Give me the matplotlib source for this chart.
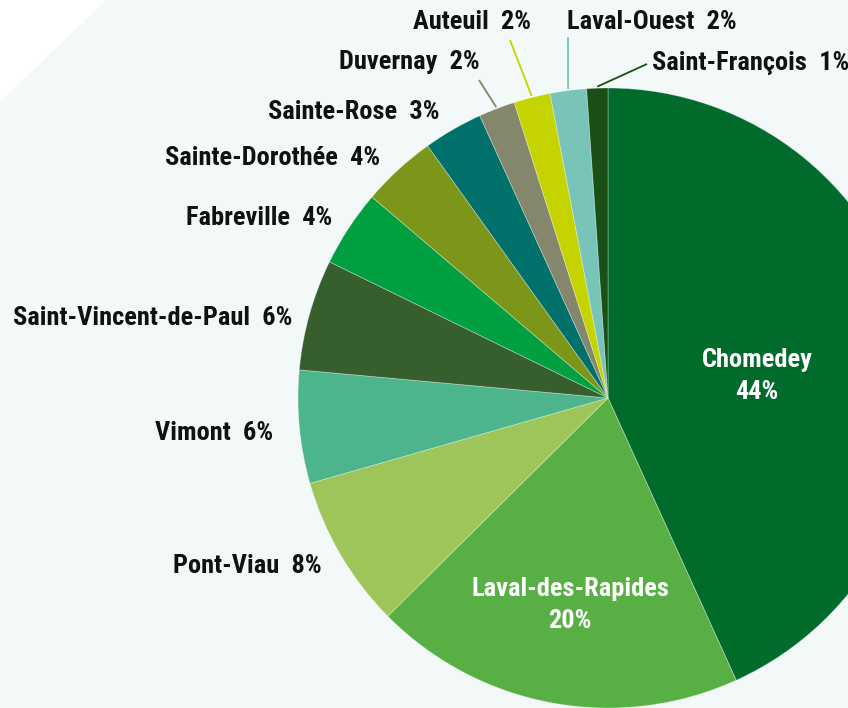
import numpy as np
import matplotlib
matplotlib.use("Agg")
import matplotlib.pyplot as plt
from matplotlib import font_manager as fm
from matplotlib.patches import Polygon

names = ["Chomedey", "Laval-des-Rapides", "Pont-Viau", "Vimont",
         "Saint-Vincent-de-Paul", "Fabreville", "Sainte-Dorothée",
         "Sainte-Rose", "Duvernay", "Auteuil", "Laval-Ouest", "Saint-François"]
values = [43.3, 19.4, 8.0, 5.9, 5.8, 4.0, 3.9, 3.1, 1.9, 1.9, 1.9, 1.1]
pct_labels = ["44%", "20%", "8%", "6%", "6%", "4%", "4%", "3%", "2%", "2%", "2%", "1%"]
colors = ["#006b2b", "#58b045", "#9dc55a", "#4cb58b", "#375f2e", "#00a040",
          "#7c9619", "#00706a", "#84876c", "#c5d400", "#79c4b8", "#1a4f18"]

avail = {f.name for f in fm.fontManager.ttflist}
fam = [f for f in ["Roboto Condensed", "Archivo Narrow", "Asap Condensed",
                   "Roboto", "DejaVu Sans"] if f in avail]
plt.rcParams['font.family'] = fam[:1] + ["DejaVu Sans"]

W, H = 848, 708
fig = plt.figure(figsize=(W / 100, H / 100), dpi=100)
fig.patch.set_facecolor("#f3f8f8")
ax = fig.add_axes([0, 0, 1, 1])

# white corner
ax.add_patch(Polygon([(0, H), (106, H), (0, H - 102)], closed=True,
                     facecolor="white", edgecolor="none", zorder=0))

cx, cy, R = 608, H - 398, 310
wedges, _ = ax.pie(values, colors=colors, startangle=90, counterclock=False,
                   center=(cx, cy), radius=R, frame=True,
                   wedgeprops=dict(linewidth=0.6, edgecolor=(1, 1, 1, 0.35)))
ax.set_xlim(0, W)
ax.set_ylim(0, H)
ax.set_aspect("equal")
ax.axis("off")

fs = 19
# inside labels
inside = {0: (757, 376), 1: (570, 605)}
for i, (x, y) in inside.items():
    ax.text(x, H - y, f"{names[i]}\n{pct_labels[i]}", color="white", fontsize=fs,
            fontweight="bold", ha="center", va="center", linespacing=1.4)

# outside labels: (anchor x, y, ha)
outside = {2: (322, 566, "right"), 3: (273, 433, "right"), 4: (292, 318, "right"),
           5: (332, 218, "right"), 6: (380, 158, "right"), 7: (440, 112, "right"),
           8: (480, 62, "right"), 9: (472, 22, "center"), 10: (567, 22, "left"),
           11: (652, 63, "left")}
for i, (x, y, ha) in outside.items():
    ax.text(x, H - y, f"{names[i]}  {pct_labels[i]}", color="#111111", fontsize=fs,
            fontweight="bold", ha=ha, va="center")

# leader lines
leader_ends = {8: (479, 80), 9: (510, 40), 10: (568, 37), 11: (647, 64)}
for i, (x, y) in leader_ends.items():
    w = wedges[i]
    ang = np.deg2rad((w.theta1 + w.theta2) / 2)
    sx, sy = cx + 1.005 * R * np.cos(ang), cy + 1.005 * R * np.sin(ang)
    ax.plot([sx, x], [sy, H - y], color=colors[i], lw=1.3, solid_capstyle="butt")

fig.savefig("out.png", dpi=100, facecolor=fig.get_facecolor())
